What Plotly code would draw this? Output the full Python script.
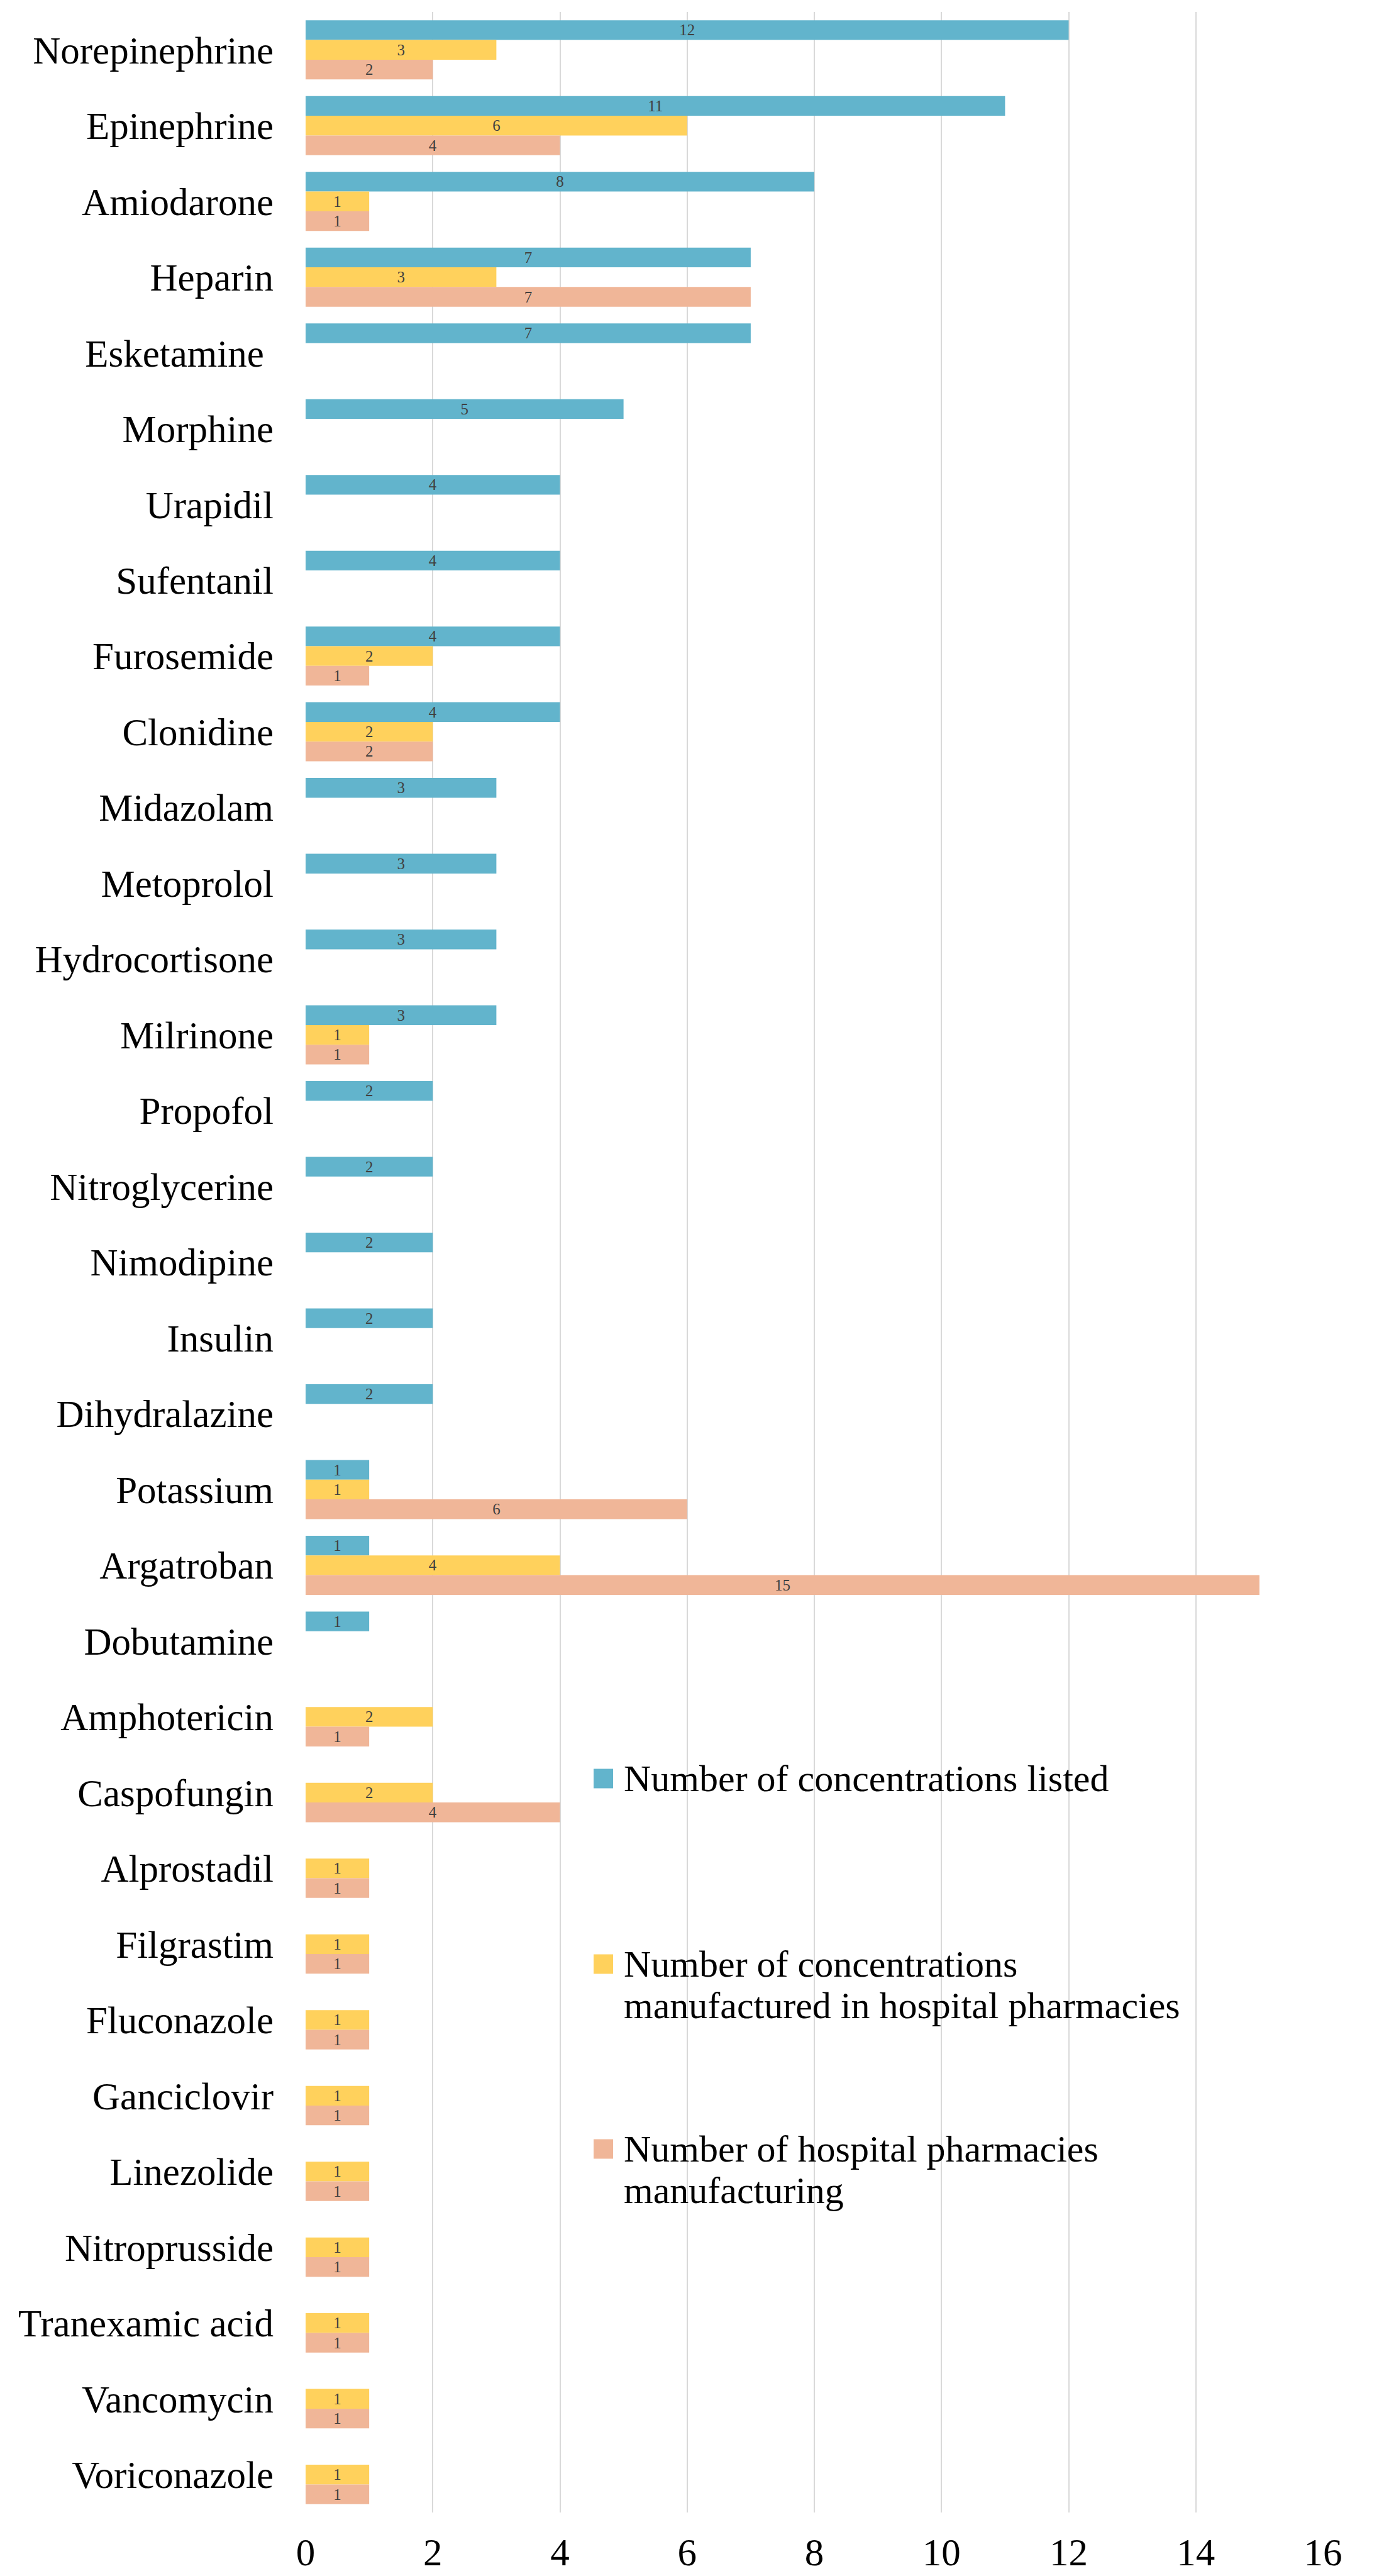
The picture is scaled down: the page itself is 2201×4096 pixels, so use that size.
import plotly.graph_objects as go

categories = ["Norepinephrine", "Epinephrine", "Amiodarone", "Heparin", "Esketamine ",
              "Morphine", "Urapidil", "Sufentanil", "Furosemide", "Clonidine",
              "Midazolam", "Metoprolol", "Hydrocortisone", "Milrinone", "Propofol",
              "Nitroglycerine", "Nimodipine", "Insulin", "Dihydralazine", "Potassium",
              "Argatroban", "Dobutamine", "Amphotericin", "Caspofungin", "Alprostadil",
              "Filgrastim", "Fluconazole", "Ganciclovir", "Linezolide", "Nitroprusside",
              "Tranexamic acid", "Vancomycin", "Voriconazole"]

conc_listed = [12, 11, 8, 7, 7, 5, 4, 4, 4, 4, 3, 3, 3, 3, 2, 2, 2, 2, 2, 1, 1, 1,
               None, None, None, None, None, None, None, None, None, None, None]
conc_manufactured = [3, 6, 1, 3, None, None, None, None, 2, 2, None, None, None, 1,
                     None, None, None, None, None, 1, 4, None, 2, 2, 1, 1, 1, 1, 1, 1, 1, 1, 1]
pharmacies = [2, 4, 1, 7, None, None, None, None, 1, 2, None, None, None, 1,
              None, None, None, None, None, 6, 15, None, 1, 4, 1, 1, 1, 1, 1, 1, 1, 1, 1]

series_names = ["Number of concentrations listed",
                "Number of concentrations manufactured in hospital pharmacies",
                "Number of hospital pharmacies manufacturing"]
legend_lines = [["Number of concentrations listed"],
                ["Number of concentrations", "manufactured in hospital pharmacies"],
                ["Number of hospital pharmacies", "manufacturing"]]
colors = ["#62B4CC", "#FFD15C", "#F0B698"]
x_ticks = [0, 2, 4, 6, 8, 10, 12, 14, 16]

FONT = "Liberation Serif, Times New Roman, serif"
W, H = 2201, 4096
ML, MR, MT, MB = 486, 97, 19, 101

fig = go.Figure()
for name, vals, col in zip(series_names, [conc_listed, conc_manufactured, pharmacies], colors):
    fig.add_trace(go.Bar(
        y=categories, x=vals, name=name, orientation="h",
        marker=dict(color=col, line=dict(width=0)),
        text=[("" if v is None else str(v)) for v in vals],
        textposition="inside", insidetextanchor="middle", textangle=0,
        constraintext="none",
        textfont=dict(family=FONT, size=25, color="#404040"),
        showlegend=False,
    ))

fig.update_layout(
    width=W, height=H,
    margin=dict(l=ML, r=MR, t=MT, b=MB, pad=0, autoexpand=False),
    barmode="group", bargap=0.22, bargroupgap=0,
    plot_bgcolor="white", paper_bgcolor="white",
    font=dict(family=FONT, color="black"),
    xaxis=dict(range=[0, 16], tickvals=x_ticks, ticktext=[str(t) for t in x_ticks],
               showgrid=True, gridcolor="#D9D9D9", gridwidth=2,
               zeroline=False, showline=False, ticks="", automargin=False,
               tickfont=dict(family=FONT, size=61, color="black"),
               ticklabelstandoff=22),
    yaxis=dict(autorange="reversed", showgrid=False, zeroline=False, showline=False,
               ticks="", automargin=False,
               tickfont=dict(family=FONT, size=61, color="black"),
               ticklabelstandoff=50),
)

# manual legend (in pixel terms converted to paper coordinates)
PW, PH = W - ML - MR, H - MT - MB
def px_x(px):
    return (px - ML) / PW
def px_y(py):
    return (H - MB - py) / PH

sw = 31
legend_left = 944
text_left = 990
item_centers = [2828, 3123, 3417]
line_gap = 66
for lines, col, cy in zip(legend_lines, colors, item_centers):
    fig.add_shape(type="rect", xref="paper", yref="paper",
                  x0=px_x(legend_left), x1=px_x(legend_left + sw),
                  y0=px_y(cy + sw / 2), y1=px_y(cy - sw / 2),
                  fillcolor=col, line=dict(width=0))
    for i, ln in enumerate(lines):
        fig.add_annotation(xref="paper", yref="paper", x=px_x(text_left),
                           y=px_y(cy + i * line_gap), text=ln, showarrow=False,
                           xanchor="left", yanchor="middle",
                           font=dict(family=FONT, size=60, color="black"))

fig.write_html("out.html")
